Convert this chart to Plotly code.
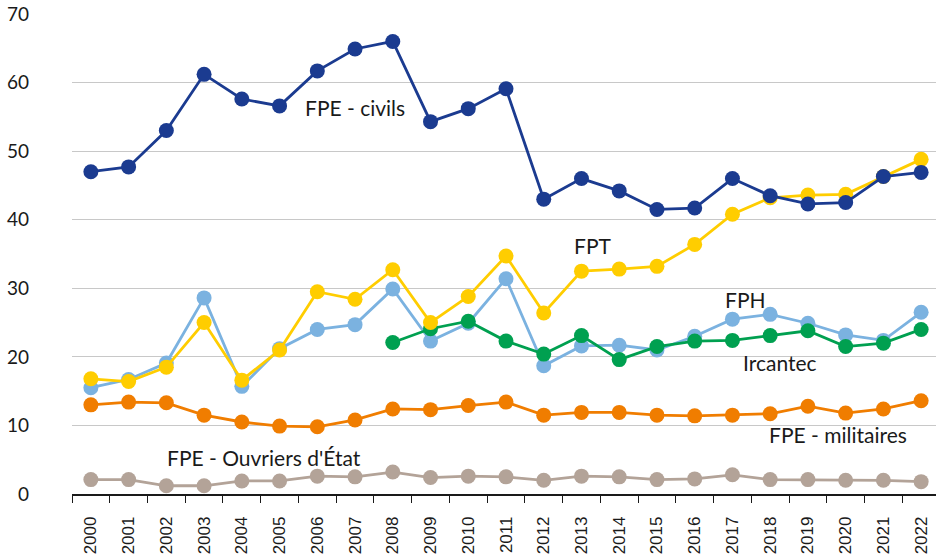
import plotly.graph_objects as go

years = [str(y) for y in range(2000, 2023)]

fpe_civils = [47.0, 47.7, 53.0, 61.2, 57.6, 56.6, 61.7, 64.9, 66.0, 54.3, 56.2, 59.1,
              43.0, 46.0, 44.2, 41.5, 41.7, 46.0, 43.5, 42.3, 42.5, 46.3, 46.9]
fpt = [16.8, 16.4, 18.5, 25.0, 16.6, 21.0, 29.5, 28.4, 32.7, 25.0, 28.8, 34.7,
       26.4, 32.5, 32.8, 33.2, 36.4, 40.8, 43.2, 43.6, 43.7, 46.3, 48.8]
fph = [15.5, 16.7, 19.1, 28.6, 15.7, 21.2, 24.0, 24.7, 29.9, 22.3, 24.9, 31.4,
       18.7, 21.6, 21.7, 21.0, 23.0, 25.5, 26.2, 24.9, 23.2, 22.4, 26.5]
ircantec = [None, None, None, None, None, None, None, None, 22.1, 24.1, 25.2, 22.3,
            20.4, 23.1, 19.6, 21.5, 22.3, 22.4, 23.1, 23.8, 21.5, 22.0, 24.0]
fpe_militaires = [13.0, 13.4, 13.3, 11.5, 10.5, 9.9, 9.8, 10.8, 12.4, 12.3, 12.9, 13.4,
                  11.5, 11.9, 11.9, 11.5, 11.4, 11.5, 11.7, 12.8, 11.8, 12.4, 13.6]
fpe_ouvriers = [2.1, 2.1, 1.2, 1.2, 1.9, 1.9, 2.6, 2.5, 3.2, 2.4, 2.6, 2.5,
                2.0, 2.6, 2.5, 2.1, 2.2, 2.8, 2.1, 2.1, 2.0, 2.0, 1.8]

series = [
    ("FPE - Ouvriers d'État", fpe_ouvriers, "#B3A398"),
    ("FPE - militaires", fpe_militaires, "#F07D00"),
    ("FPH", fph, "#7BB2E0"),
    ("Ircantec", ircantec, "#00A050"),
    ("FPT", fpt, "#FFCD00"),
    ("FPE - civils", fpe_civils, "#1B3B90"),
]

fig = go.Figure()
for name, vals, col in series:
    fig.add_trace(go.Scatter(
        x=years, y=vals, name=name, mode="lines+markers",
        line=dict(color=col, width=2.8),
        marker=dict(color=col, size=15),
        connectgaps=False, showlegend=False, cliponaxis=False,
    ))

labels = [
    ("FPE - civils", 7.0, 56.3),
    ("FPT", 13.3, 36.2),
    ("FPH", 17.35, 28.4),
    ("Ircantec", 18.25, 19.25),
    ("FPE - militaires", 19.8, 8.7),
    ("FPE - Ouvriers d'État", 4.6, 5.3),
]
for txt, xi, yv in labels:
    fig.add_annotation(x=xi, y=yv, xref="x", yref="y", text=txt, showarrow=False,
                       font=dict(family="Lato, Open Sans, sans-serif", size=21, color="#1a1a1a"))

fig.update_layout(
    width=940, height=560,
    margin=dict(l=72, r=0, t=14, b=66, autoexpand=False),
    paper_bgcolor="white", plot_bgcolor="white",
)
fig.update_xaxes(
    type="category", tickangle=-90, automargin=False,
    tickfont=dict(family="Liberation Sans, Arial, sans-serif", size=17, color="#1a1a1a"),
    showgrid=False, showline=True, linecolor="#1a1a1a", linewidth=1.5,
    ticks="outside", tickson="boundaries", ticklen=7, tickcolor="#1a1a1a", tickwidth=1.2,
    range=[-0.5, 22.5], ticklabelstandoff=14,
)
fig.update_yaxes(
    range=[0, 70], dtick=10, automargin=False,
    tickfont=dict(family="Lato, sans-serif", size=19, color="#1a1a1a"),
    showgrid=True, gridcolor="#C8C8C8", gridwidth=1.2,
    zeroline=False, showline=False, ticks="", ticklabelstandoff=42,
)

fig.write_html(
    "out.html",
    config={"displayModeBar": False},
    post_script="document.body.style.margin='0';document.body.style.overflow='hidden';",
)
